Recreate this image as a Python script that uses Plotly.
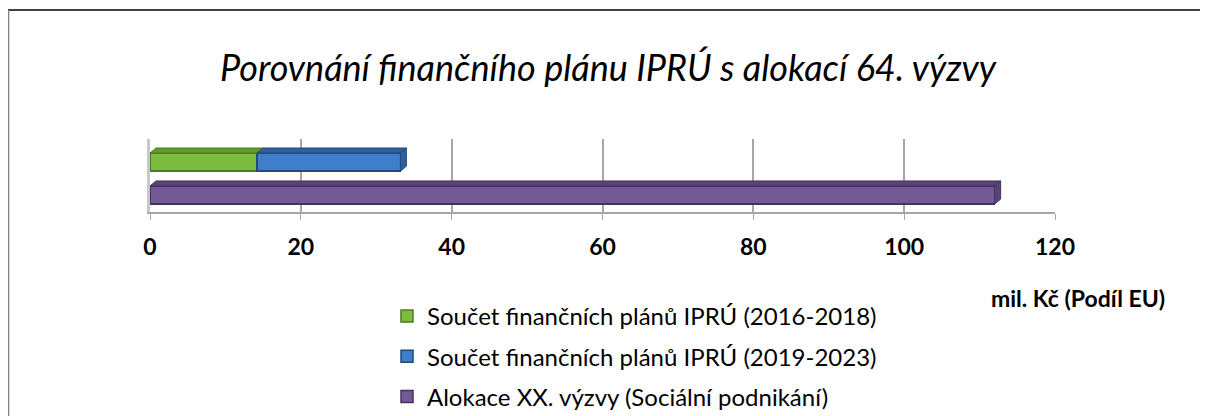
import plotly.graph_objects as go

title = "Porovnání finančního plánu IPRÚ s alokací 64. výzvy"
categories = ["Alokace", "IPRÚ"]
series_names = [
    "Součet finančních plánů IPRÚ (2016-2018)",
    "Součet finančních plánů IPRÚ (2019-2023)",
    "Alokace XX. výzvy (Sociální podnikání)",
]
plan_2016_2018 = [0, 14.2]
plan_2019_2023 = [0, 19.0]
alokace = [112.0, 0]
tick_vals = [0, 20, 40, 60, 80, 100, 120]
axis_title = "mil. Kč (Podíl EU)"

colors = ["#7cbd3f", "#3f7ec8", "#735a96"]
edges = ["#4c7a22", "#1f4a7e", "#45335e"]
tops = ["#5f9a2c", "#2f609c", "#5a4377"]

OFF = 8  # page body margin
W, H = 1200, 408
L = 150 - OFF
R = W - (1055 - OFF)
T = 139 - OFF
B = H - (212 - OFF)
X_MAX = 120
Y_RANGE = [-0.515, 1.70]
BAR_W = 0.55

fig = go.Figure()
series = [plan_2016_2018, plan_2019_2023, alokace]
for name, vals, c, e in zip(series_names, series, colors, edges):
    fig.add_trace(go.Bar(
        y=list(range(len(categories))), x=vals, name=name, orientation="h",
        marker=dict(color=c, line=dict(color=e, width=1.5)),
        width=BAR_W, legendgroup=name,
    ))

pw = W - L - R
ph = H - T - B
def px_x(px):
    return (px - OFF - L) / pw
def px_y(py):
    return (H - B - (py - OFF)) / ph

# 3D depth faces derived from the data
dx = 6 * X_MAX / pw
dy = 5 * (Y_RANGE[1] - Y_RANGE[0]) / ph
for ci in range(len(categories)):
    start = 0.0
    last_end = None
    for si, vals in enumerate(series):
        v = vals[ci]
        if v <= 0:
            continue
        x0, x1 = start, start + v
        yt = ci + BAR_W / 2
        fig.add_shape(type="path", xref="x", yref="y",
                      path=f"M {x0},{yt} L {x0+dx},{yt+dy} L {x1+dx},{yt+dy} L {x1},{yt} Z",
                      fillcolor=tops[si], line=dict(color=edges[si], width=1), layer="above")
        last_end = (x1, si)
        start = x1
    if last_end:
        x1, si = last_end
        yt = ci + BAR_W / 2
        yb = ci - BAR_W / 2
        fig.add_shape(type="path", xref="x", yref="y",
                      path=f"M {x1},{yt} L {x1+dx},{yt+dy} L {x1+dx},{yb+dy} L {x1},{yb} Z",
                      fillcolor=tops[si], line=dict(color=edges[si], width=1), layer="above")

fig.update_layout(
    width=W, height=H,
    margin=dict(l=L, r=R, t=T, b=B, autoexpand=False),
    barmode="stack",
    plot_bgcolor="white", paper_bgcolor="white",
    font=dict(family="Lato, Carlito, sans-serif", color="black"),
    title=dict(text=title, x=0.5, xanchor="center", y=1 - (68 - OFF) / H, yanchor="middle",
               font=dict(size=36, family="Lato, sans-serif", style="italic")),
    xaxis=dict(range=[0, X_MAX], tickvals=tick_vals, showgrid=True, gridcolor="#a6a6a6", gridwidth=1.5,
               showline=True, linecolor="#a6a6a6", linewidth=1.5, ticks="outside", ticklen=6,
               tickcolor="#a6a6a6", zeroline=False, automargin=False,
               tickfont=dict(size=23, family="Lato, sans-serif", weight="bold"), ticklabelstandoff=8),
    yaxis=dict(range=Y_RANGE, showticklabels=False, showgrid=False, zeroline=False, automargin=False,
               showline=True, linecolor="#c8c8c8", linewidth=3),
    legend=dict(x=px_x(387), y=px_y(294), xanchor="left", yanchor="top", traceorder="grouped",
                font=dict(size=24, family="Lato, sans-serif"), itemwidth=30, tracegroupgap=6,
                bgcolor="rgba(0,0,0,0)"),
    showlegend=True,
)
fig.add_annotation(text=axis_title, xref="paper", yref="paper", x=px_x(1078), y=px_y(298),
                   xanchor="center", yanchor="middle", showarrow=False,
                   font=dict(size=23, family="Lato, sans-serif", weight="bold"))
fig.add_shape(type="line", xref="paper", yref="paper", x0=px_x(8), x1=px_x(1250), y0=px_y(10), y1=px_y(10),
              line=dict(color="black", width=1.5))
fig.add_shape(type="line", xref="paper", yref="paper", x0=px_x(8), x1=px_x(8), y0=px_y(10), y1=px_y(450),
              line=dict(color="#7f7f7f", width=2.5))
fig.write_html("out.html")
